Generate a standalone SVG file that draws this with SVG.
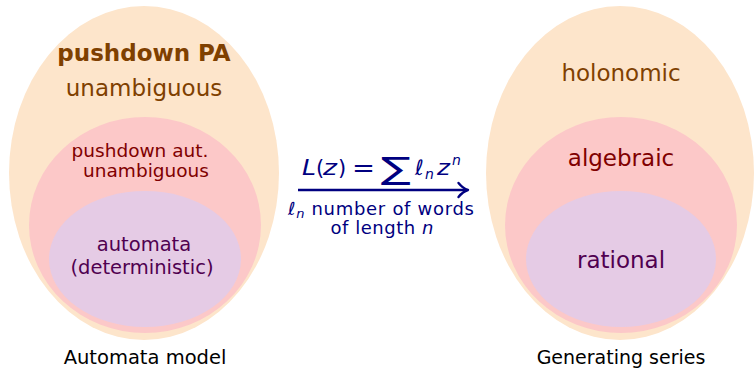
<svg xmlns="http://www.w3.org/2000/svg" width="755" height="372" viewBox="0 0 755 372">
<style>
text{font-family:"DejaVu Sans","Liberation Sans",sans-serif;text-anchor:middle}
.outer{fill:#fde5cb}
.mid{fill:#fcc8c8}
.inner{fill:#e5cbe5}
.brown{fill:#7f4000}
.red{fill:#800000}
.purp{fill:#500050}
.navy{fill:#000080}
.big{font-size:23px}
.med{font-size:18.5px}
.lab{fill:#000}
.it{font-style:italic}
.f text{text-anchor:start;fill:#000080}
</style>
<g id="automata-model">
  <g id="pushdown-pa">
    <ellipse class="outer" cx="144" cy="173" rx="135" ry="167"/>
    <text class="big brown" x="144" y="61" font-weight="bold">pushdown PA</text>
    <text class="big brown" x="144" y="96">unambiguous</text>
  </g>
  <g id="pushdown-aut">
    <ellipse class="mid" cx="145" cy="225" rx="116" ry="108"/>
    <text class="med red" x="140" y="157">pushdown aut.</text>
    <text class="med red" x="146" y="177">unambiguous</text>
  </g>
  <g id="automata">
    <ellipse class="inner" cx="145" cy="259" rx="96" ry="68"/>
    <text class="purp" x="144" y="251" font-size="19.5">automata</text>
    <text class="purp" x="142" y="274" font-size="19.5">(deterministic)</text>
  </g>
  <text class="lab" x="145" y="364" font-size="19.5">Automata model</text>
</g>
<g id="generating-series">
  <g id="holonomic">
    <ellipse class="outer" cx="620" cy="173" rx="134" ry="167"/>
    <text class="big brown" x="621" y="81">holonomic</text>
  </g>
  <g id="algebraic">
    <ellipse class="mid" cx="621" cy="225" rx="116" ry="108"/>
    <text class="big red" x="621" y="166">algebraic</text>
  </g>
  <g id="rational">
    <ellipse class="inner" cx="621" cy="259" rx="95" ry="68"/>
    <text class="big purp" x="621" y="268">rational</text>
  </g>
  <text class="lab" x="621" y="364" font-size="19">Generating series</text>
</g>
<g id="connectors">
  <line x1="298" y1="190" x2="466" y2="190" stroke="#000080" stroke-width="2.6"/>
  <path d="M458.5,183 Q463,188.5 468,190 Q463,191.5 458.5,197" fill="none" stroke="#000080" stroke-width="2.4" stroke-linecap="round" stroke-linejoin="round"/>
  <g class="f" font-size="21">
    <text class="it" x="302" y="175" textLength="14" lengthAdjust="spacingAndGlyphs">L</text>
    <text x="316" y="175">(</text>
    <text class="it" x="323" y="175" textLength="14" lengthAdjust="spacingAndGlyphs">z</text>
    <text x="338" y="175">)</text>
    <text x="352" y="175.5" font-size="23" textLength="23" lengthAdjust="spacingAndGlyphs">=</text>
    <text x="381" y="179" font-size="31" textLength="30" lengthAdjust="spacingAndGlyphs">∑</text>
    <text class="it" x="415" y="175">ℓ</text>
    <text class="it" x="425" y="179" font-size="14">n</text>
    <text class="it" x="437" y="175" textLength="13" lengthAdjust="spacingAndGlyphs">z</text>
    <text class="it" x="452" y="165" font-size="14">n</text>
  </g>
  <text class="navy" font-size="18" x="381" y="215" textLength="186"><tspan class="it">ℓ</tspan><tspan class="it" font-size="13" dy="3">n</tspan><tspan dy="-3"> number of words</tspan></text>
  <text class="navy" font-size="18" x="382" y="234" textLength="103">of length <tspan class="it">n</tspan></text>
</g>
</svg>
